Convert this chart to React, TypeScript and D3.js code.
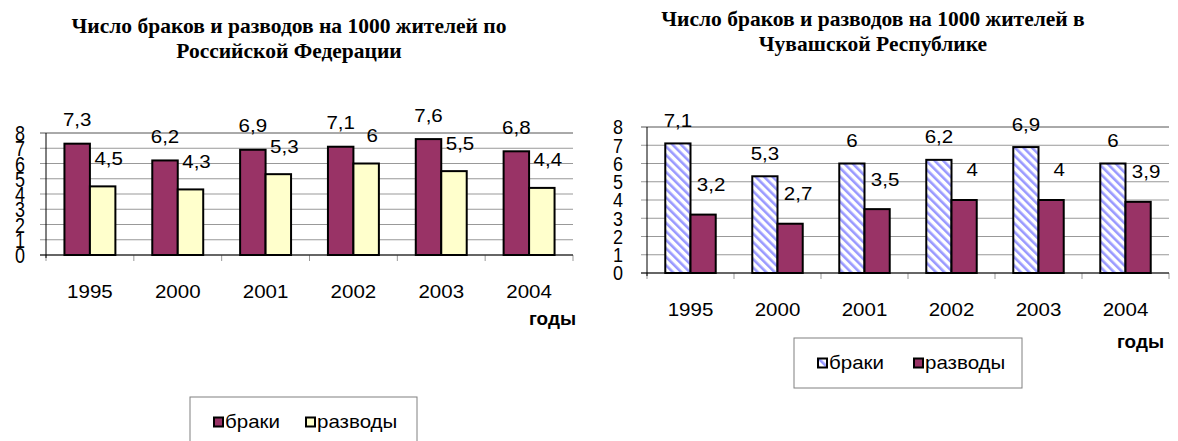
import React from "react";
import * as d3 from "d3";

const years = ["1995", "2000", "2001", "2002", "2003", "2004"];
const seriesNames = ["браки", "разводы"];
const rfMarriages = [7.3, 6.2, 6.9, 7.1, 7.6, 6.8];
const rfDivorces = [4.5, 4.3, 5.3, 6, 5.5, 4.4];
const chMarriages = [7.1, 5.3, 6, 6.2, 6.9, 6];
const chDivorces = [3.2, 2.7, 3.5, 4, 4, 3.9];
const yTicks = [0, 1, 2, 3, 4, 5, 6, 7, 8];
const titleLeft = ["Число браков и разводов на 1000 жителей по", "Российской Федерации"];
const titleRight = ["Число браков и разводов на 1000 жителей в", "Чувашской Республике"];
const axisTitle = "годы";

const SANS = "'Liberation Sans', Arial, sans-serif";
const SERIF = "'Liberation Serif', 'Times New Roman', serif";
const PURPLE = "#993366";
const YELLOW = "#ffffcc";

type TProps = {
  x: number; y: number; sx?: number; sy?: number; anchor?: string; size?: number;
  bold?: boolean; family?: string; children: React.ReactNode;
};

function T({ x, y, sx = 1.14, sy = 1, anchor = "start", size = 18, bold = false, family = SANS, children }: TProps) {
  return (
    <text transform={`translate(${x},${y}) scale(${sx},${sy})`} dy="0.36em" textAnchor={anchor}
      fontFamily={family} fontWeight={bold ? "bold" : "normal"} fontSize={size} fill="#000">
      {children}
    </text>
  );
}

type ChartProps = {
  x0: number; x1: number; yTop: number; yBottom: number;
  values: number[][]; fills: string[];
  tickRight: number; tickSy: number; yearY: number; labelDy: number[]; labelDx: number[];
  gody: [number, number];
  title: string[]; titleX: number; titleY: number;
  legend: { x: number; y: number; w: number; h: number; items: number[]; textY: number };
};

function fmt(v: number) {
  return String(v).replace(".", ",");
}

function Chart(p: ChartProps) {
  const x = d3.scaleBand<string>().domain(years).range([p.x0, p.x1]).paddingInner(0.42).paddingOuter(0.21);
  const xs = d3.scaleBand<number>().domain([0, 1]).range([0, x.bandwidth()]);
  const y = d3.scaleLinear().domain([0, 8]).range([p.yBottom, p.yTop]);
  const step = (p.x1 - p.x0) / years.length;
  return (
    <g>
      {p.title.map((t, i) => (
        <text key={i} x={p.titleX} y={p.titleY + i * 25} textAnchor="middle" fontFamily={SERIF} fontWeight="bold" fontSize={21.5}>{t}</text>
      ))}
      {yTicks.map((t) => (
        <line key={"g" + t} x1={p.x0 - 6} x2={p.x1} y1={y(t)} y2={y(t)} stroke={t === 8 ? "#555" : "#999"} strokeWidth={1} />
      ))}
      {yTicks.map((t) => (
        <T key={"t" + t} x={p.tickRight} y={y(t)} sx={1} sy={p.tickSy} anchor="end" size={18}>{t}</T>
      ))}
      {years.map((yr, i) => (
        <line key={"xt" + i} x1={p.x0 + step * i} x2={p.x0 + step * i} y1={p.yBottom} y2={p.yBottom + 6} stroke="#999" />
      ))}
      <line x1={p.x1} x2={p.x1} y1={p.yBottom} y2={p.yBottom + 6} stroke="#999" />
      {p.values.map((vals, s) =>
        vals.map((v, i) => (
          <rect key={s + "-" + i} x={(x(years[i]) ?? 0) + (xs(s) ?? 0)} y={y(v)} width={xs.bandwidth()} height={y(0) - y(v)} fill={p.fills[s]} stroke="#000" strokeWidth={2} />
        ))
      )}
      {p.values.map((vals, s) =>
        vals.map((v, i) => (
          <T key={"l" + s + "-" + i} x={(x(years[i]) ?? 0) + (xs(s) ?? 0) + xs.bandwidth() / 2 + p.labelDx[s]} y={y(v) + p.labelDy[s]} anchor="middle">{fmt(v)}</T>
        ))
      )}
      <line x1={p.x0} x2={p.x0} y1={p.yTop} y2={p.yBottom + 3} stroke="#000" strokeWidth={1} />
      <line x1={p.x0 - 6} x2={p.x1} y1={p.yBottom} y2={p.yBottom} stroke="#000" strokeWidth={1} />
      {years.map((yr) => (
        <T key={"y" + yr} x={(x(yr) ?? 0) + x.bandwidth() / 2} y={p.yearY} anchor="middle">{yr}</T>
      ))}
      <T x={p.gody[0]} y={p.gody[1]} bold sx={1.05}>{axisTitle}</T>
      <rect x={p.legend.x} y={p.legend.y} width={p.legend.w} height={p.legend.h} fill="#fff" stroke="#808080" strokeWidth={1} />
      {seriesNames.map((n, s) => (
        <g key={"lg" + s}>
          <rect x={p.legend.items[s]} y={p.legend.textY - 4.5} width={9} height={9} fill={p.fills[s]} stroke="#000" strokeWidth={2} />
          <T x={p.legend.items[s] + 11} y={p.legend.textY}>{n}</T>
        </g>
      ))}
    </g>
  );
}

export default function App() {
  return (
    <svg width={1178} height={441} style={{ position: "absolute", left: 0, top: 0, background: "#fff" }}>
      <defs>
        <pattern id="stripes" patternUnits="userSpaceOnUse" width={6} height={6} patternTransform="rotate(-45)">
          <rect width={6} height={6} fill="#fff" />
          <rect width={2.6} height={6} fill="#9999ff" />
        </pattern>
      </defs>
      <rect width={1178} height={441} fill="#fff" />
      <Chart
        x0={46} x1={573} yTop={133} yBottom={255}
        values={[rfMarriages, rfDivorces]} fills={[PURPLE, YELLOW]}
        tickRight={25} tickSy={1.25} yearY={292} labelDy={[-24, -28]} labelDx={[0, 6]}
        gody={[529, 319]}
        title={titleLeft} titleX={289} titleY={33}
        legend={{ x: 190, y: 397, w: 227, h: 60, items: [214, 306], textY: 422 }}
      />
      <Chart
        x0={647} x1={1169} yTop={127} yBottom={273}
        values={[chMarriages, chDivorces]} fills={["url(#stripes)", PURPLE]}
        tickRight={623} tickSy={1.15} yearY={310} labelDy={[-23, -30]} labelDx={[0, 8]}
        gody={[1117, 342]}
        title={titleRight} titleX={873} titleY={26}
        legend={{ x: 794, y: 338, w: 228, h: 50, items: [818, 914], textY: 363 }}
      />
    </svg>
  );
}
